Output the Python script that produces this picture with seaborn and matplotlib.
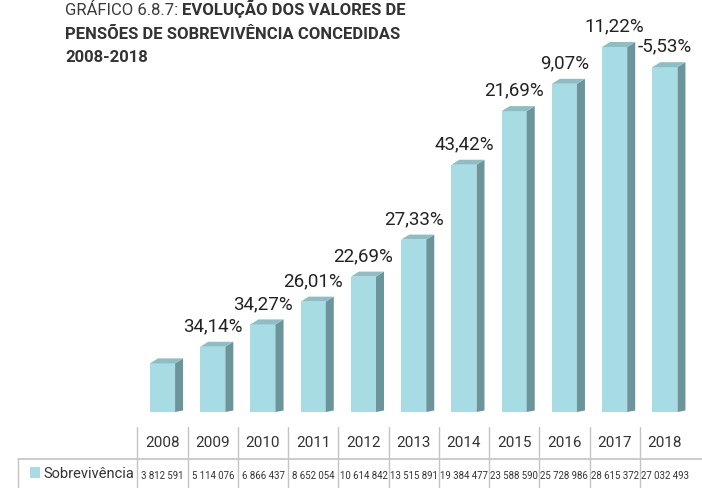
import matplotlib
matplotlib.use("Agg")
import matplotlib.pyplot as plt
from matplotlib.patches import Polygon, Rectangle
from matplotlib.lines import Line2D
from matplotlib.transforms import blended_transform_factory
import seaborn as sns
import pandas as pd

# Survivor pension amounts granted per year
years = ["2008", "2009", "2010", "2011", "2012", "2013",
         "2014", "2015", "2016", "2017", "2018"]
values = [3812591, 5114076, 6866437, 8652054, 10614842, 13515891,
          19384477, 23588590, 25728986, 28615372, 27032493]
series_name = "Sobrevivência"

FRONT = "#a7dce4"
SIDE = "#6b959b"
TOP = "#8dbec5"
INK = "#222222"
TXT = "#333333"
GRID = "#c4c4c4"

sns.set_theme(style="white")
plt.rcParams["font.family"] = ["Roboto", "DejaVu Sans"]

W, H = 702, 489
fig = plt.figure(figsize=(W / 100, H / 100), dpi=100)
fig.patch.set_facecolor("white")

# Plot area: baseline at 413 px from top, 11 slots of ~50 px starting at x=137
left_px, right_px, base_px = 137.4, 690.0, 413.0
px_per_unit = (right_px - left_px) / len(years)
ax = fig.add_axes([left_px / W, (H - base_px) / H, (right_px - left_px) / W, base_px / H])
px_per_val = 365.0 / values[9]

df = pd.DataFrame({"ano": years, "valor": values})
sns.barplot(data=df, x="ano", y="valor", color=FRONT, saturation=1,
            width=0.5, linewidth=0, ax=ax)
ax.set_xlim(-0.5, len(years) - 0.5)
ax.set_ylim(0, base_px / px_per_val)
ax.set_axis_off()

# Depth of the extruded bars, expressed in data units
dx = 8.0 / px_per_unit
dy = 5.0 / px_per_val

for i, (bar, v) in enumerate(zip(list(ax.patches), values)):
    xl = bar.get_x()
    xr = xl + bar.get_width()
    h = bar.get_height()
    side = Polygon([(xr, 0), (xr, h), (xr + dx, h + dy), (xr + dx, dy * 0.3)],
                   closed=True, facecolor=SIDE, edgecolor="none", zorder=3)
    top = Polygon([(xl, h), (xr, h), (xr + dx, h + dy), (xl + dx, h + dy)],
                  closed=True, facecolor=TOP, edgecolor="none", zorder=3)
    ax.add_patch(side)
    ax.add_patch(top)
    if i > 0:
        pct = (v / values[i - 1] - 1) * 100
        label = f"{pct:.2f}".replace(".", ",") + "%"
        ax.annotate(label, (xl + bar.get_width() / 2, h), xytext=(0, 9),
                    textcoords="offset points", ha="center", va="bottom",
                    fontsize=13.5, color=INK, annotation_clip=False)

# Data table below the bars
tr = blended_transform_factory(ax.transData, fig.transFigure)


def fy(px):
    return 1 - px / H


for i in range(len(years)):
    ax.add_line(Line2D([i - 0.5, i - 0.5], [fy(428), fy(H)], transform=tr,
                       color=GRID, lw=1, clip_on=False))
fig.add_artist(Line2D([18 / W, 1], [fy(460), fy(460)], transform=fig.transFigure,
                      color=GRID, lw=1.2))
fig.add_artist(Line2D([18 / W, 18 / W], [fy(460), fy(H)], transform=fig.transFigure,
                      color=GRID, lw=1))

for i, (yr, v) in enumerate(zip(years, values)):
    ax.text(i, fy(443), yr, transform=tr, ha="center", va="center",
            fontsize=11, color=TXT)
    ax.text(i, fy(476), f"{v:,}".replace(",", " "), transform=tr,
            ha="center", va="center", fontsize=6.9, color=TXT)

fig.add_artist(Rectangle((30 / W, fy(479)), 10 / W, 11 / H,
                         transform=fig.transFigure, facecolor=FRONT,
                         edgecolor="none"))
fig.text(43 / W, fy(474), series_name, ha="left", va="center",
         fontsize=10.5, color=TXT)

# Title: regular-weight prefix followed by a bold heading
renderer = fig.canvas.get_renderer()
t1 = fig.text(65 / W, fy(15), "GRÁFICO 6.8.7: ", ha="left", va="baseline",
              fontsize=12, fontweight="normal", color="#3a3a3a")
ext = t1.get_window_extent(renderer)
fig.text(ext.x1 / W, fy(15), "EVOLUÇÃO DOS VALORES DE", ha="left",
         va="baseline", fontsize=12, fontweight="bold", color=TXT)
fig.text(65 / W, fy(39), "PENSÕES DE SOBREVIVÊNCIA CONCEDIDAS", ha="left",
         va="baseline", fontsize=12, fontweight="bold", color=TXT)
fig.text(65 / W, fy(62), "2008-2018", ha="left", va="baseline",
         fontsize=12, fontweight="bold", color=TXT)

fig.savefig("out.png", dpi=100, facecolor="white")
